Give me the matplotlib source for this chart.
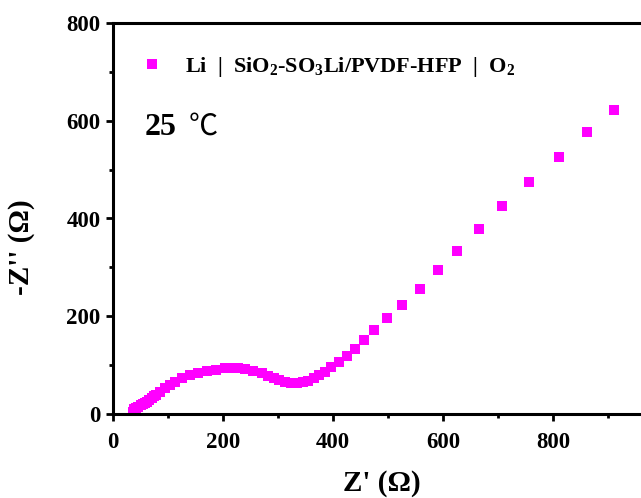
import matplotlib
matplotlib.use("Agg")
from matplotlib import pyplot as plt
from matplotlib.ticker import MultipleLocator

plt.rcParams["font.family"] = ["Liberation Serif", "Noto Sans CJK SC", "DejaVu Sans"]
plt.rcParams["mathtext.fontset"] = "custom"
plt.rcParams["mathtext.rm"] = "Liberation Serif:bold"
plt.rcParams["mathtext.bf"] = "Liberation Serif:bold"
plt.rcParams["mathtext.it"] = "Liberation Serif:bold"

# Nyquist data, Z' and -Z'' in ohm
z_real = [36, 38, 42, 46, 50, 54, 58, 62, 66, 70, 74, 78, 85.5, 94.5, 104, 113,
          125, 140, 155, 171.5, 187, 204, 216, 228, 240, 255, 270, 282, 293, 302,
          313, 323, 334, 345, 355, 365, 375, 385, 396, 410, 426, 440.5, 457, 475,
          499, 526, 558, 591.5, 626, 666, 708, 757, 810, 862, 911]
z_imag = [4.7, 9.6, 12, 15, 18, 20, 23, 25, 29, 32, 36, 39, 45.6, 52.5, 59, 66,
          73, 80, 84.5, 88.6, 91, 95, 95, 94, 92, 88, 83, 77.7, 73.6, 69.6,
          66, 64, 64, 65.5, 68, 73, 79, 86.6, 95.5, 106, 118, 132, 151, 171,
          196, 224, 256, 294, 333, 378, 425, 474, 525, 576, 621]

x_ticks = [0, 200, 400, 600, 800]
y_ticks = [0, 200, 400, 600, 800]

series_label = r"Li  |  SiO$_2$-SO$_3$Li/PVDF-HFP  |  O$_2$"
temp_value = "25"
temp_unit = "℃"

fig = plt.figure(figsize=(6.41, 4.98), dpi=100)
# right part of the axes runs past the figure edge, as in the original crop
ax = fig.add_axes([113 / 641, 84 / 498, 550 / 641, 391 / 498])

ax.plot(z_real, z_imag, linestyle="none", marker="s", markersize=6.5,
        color="#ff00ff", markeredgewidth=0, label=series_label)

ax.set_xlim(0, 1000)
ax.set_ylim(0, 800)
ax.set_xticks(x_ticks)
ax.set_yticks(y_ticks)
ax.xaxis.set_minor_locator(MultipleLocator(100))
ax.yaxis.set_minor_locator(MultipleLocator(100))

for spine in ax.spines.values():
    spine.set_linewidth(2.2)
ax.tick_params(which="major", direction="out", length=5, width=2, labelsize=16.5)
ax.tick_params(axis="x", which="major", pad=8)
ax.tick_params(axis="y", which="major", pad=4)
ax.tick_params(which="minor", direction="out", length=3, width=2)
for lbl in ax.get_xticklabels() + ax.get_yticklabels():
    lbl.set_fontweight("bold")

ax.set_xlabel("Z' (Ω)", fontsize=21, fontweight="bold")
ax.set_ylabel("-Z'' (Ω)", fontsize=21, fontweight="bold")
ax.xaxis.set_label_coords(0.489, -0.142)
ax.yaxis.set_label_coords(-0.142, 0.427)

ax.legend(loc="upper left", frameon=False, handlelength=1.0, handletextpad=1.0,
          borderpad=0, borderaxespad=0, bbox_to_anchor=(0.051, 0.918),
          prop={"weight": "bold", "size": 16})

ax.text(0.058, 0.734, temp_value, transform=ax.transAxes, fontsize=23,
        fontweight="bold", ha="left", va="center")
ax.text(0.138, 0.734, temp_unit, transform=ax.transAxes, fontsize=21,
        family=["Noto Sans CJK SC", "DejaVu Sans"], ha="left", va="center")

fig.savefig("out.png", dpi=100, facecolor="white")
plt.close(fig)
